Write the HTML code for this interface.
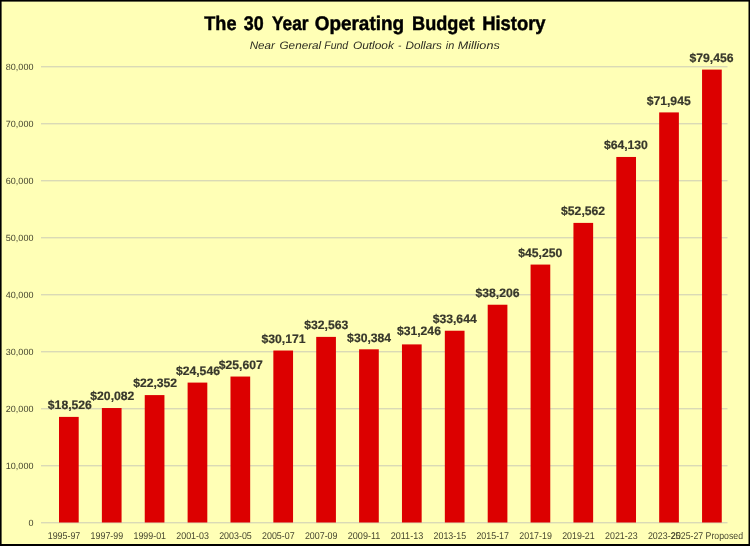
<!DOCTYPE html>
<html lang="en"><head><meta charset="utf-8"><title>The 30 Year Operating Budget History</title>
<style>html,body{margin:0;padding:0;background:#ffffb6;}body{width:750px;height:546px;overflow:hidden;}svg{display:block;}text{font-family:"Liberation Sans",Arial,sans-serif;text-rendering:geometricPrecision;}</style></head><body>
<svg width="750" height="546" viewBox="0 0 750 546">
<rect x="0" y="0" width="750" height="546" fill="#000"/>
<rect x="1.6" y="1.6" width="746.9" height="542.4" fill="#ffffb6"/>
<rect x="41" y="522.0" width="686.5" height="1.4" fill="#dadab6"/>
<rect x="41" y="465.0" width="686.5" height="1.4" fill="#dadab6"/>
<rect x="41" y="408.0" width="686.5" height="1.4" fill="#dadab6"/>
<rect x="41" y="351.0" width="686.5" height="1.4" fill="#dadab6"/>
<rect x="41" y="294.0" width="686.5" height="1.4" fill="#dadab6"/>
<rect x="41" y="237.0" width="686.5" height="1.4" fill="#dadab6"/>
<rect x="41" y="180.0" width="686.5" height="1.4" fill="#dadab6"/>
<rect x="41" y="123.0" width="686.5" height="1.4" fill="#dadab6"/>
<rect x="41" y="66.0" width="686.5" height="1.4" fill="#dadab6"/>
<text x="33.4" y="525.5" font-size="9.0" fill="#45452f" text-anchor="end">0</text>
<text x="33.4" y="468.5" font-size="9.0" fill="#45452f" text-anchor="end">10,000</text>
<text x="33.4" y="411.5" font-size="9.0" fill="#45452f" text-anchor="end">20,000</text>
<text x="33.4" y="354.5" font-size="9.0" fill="#45452f" text-anchor="end">30,000</text>
<text x="33.4" y="297.5" font-size="9.0" fill="#45452f" text-anchor="end">40,000</text>
<text x="33.4" y="240.5" font-size="9.0" fill="#45452f" text-anchor="end">50,000</text>
<text x="33.4" y="183.5" font-size="9.0" fill="#45452f" text-anchor="end">60,000</text>
<text x="33.4" y="126.5" font-size="9.0" fill="#45452f" text-anchor="end">70,000</text>
<text x="33.4" y="69.5" font-size="9.0" fill="#45452f" text-anchor="end">80,000</text>
<rect x="59.00" y="416.90" width="19.7" height="105.60" fill="#dc0000"/>
<rect x="101.87" y="408.03" width="19.7" height="114.47" fill="#dc0000"/>
<rect x="144.74" y="395.09" width="19.7" height="127.41" fill="#dc0000"/>
<rect x="187.61" y="382.59" width="19.7" height="139.91" fill="#dc0000"/>
<rect x="230.48" y="376.54" width="19.7" height="145.96" fill="#dc0000"/>
<rect x="273.35" y="350.53" width="19.7" height="171.97" fill="#dc0000"/>
<rect x="316.22" y="336.89" width="19.7" height="185.61" fill="#dc0000"/>
<rect x="359.09" y="349.31" width="19.7" height="173.19" fill="#dc0000"/>
<rect x="401.96" y="344.40" width="19.7" height="178.10" fill="#dc0000"/>
<rect x="444.83" y="330.73" width="19.7" height="191.77" fill="#dc0000"/>
<rect x="487.70" y="304.73" width="19.7" height="217.77" fill="#dc0000"/>
<rect x="530.57" y="264.57" width="19.7" height="257.93" fill="#dc0000"/>
<rect x="573.44" y="222.90" width="19.7" height="299.60" fill="#dc0000"/>
<rect x="616.31" y="156.96" width="19.7" height="365.54" fill="#dc0000"/>
<rect x="659.18" y="112.41" width="19.7" height="410.09" fill="#dc0000"/>
<rect x="702.05" y="69.60" width="19.7" height="452.90" fill="#dc0000"/>
<text x="69.85" y="409.00" font-size="12.2" font-weight="bold" fill="#37372b" stroke="#37372b" stroke-width="0.2" text-anchor="middle" textLength="44" lengthAdjust="spacingAndGlyphs">$18,526</text>
<text x="112.34" y="400.13" font-size="12.2" font-weight="bold" fill="#37372b" stroke="#37372b" stroke-width="0.2" text-anchor="middle" textLength="44" lengthAdjust="spacingAndGlyphs">$20,082</text>
<text x="155.14" y="387.19" font-size="12.2" font-weight="bold" fill="#37372b" stroke="#37372b" stroke-width="0.2" text-anchor="middle" textLength="44" lengthAdjust="spacingAndGlyphs">$22,352</text>
<text x="197.94" y="374.69" font-size="12.2" font-weight="bold" fill="#37372b" stroke="#37372b" stroke-width="0.2" text-anchor="middle" textLength="44" lengthAdjust="spacingAndGlyphs">$24,546</text>
<text x="240.73" y="368.64" font-size="12.2" font-weight="bold" fill="#37372b" stroke="#37372b" stroke-width="0.2" text-anchor="middle" textLength="44" lengthAdjust="spacingAndGlyphs">$25,607</text>
<text x="283.53" y="342.63" font-size="12.2" font-weight="bold" fill="#37372b" stroke="#37372b" stroke-width="0.2" text-anchor="middle" textLength="44" lengthAdjust="spacingAndGlyphs">$30,171</text>
<text x="326.32" y="328.99" font-size="12.2" font-weight="bold" fill="#37372b" stroke="#37372b" stroke-width="0.2" text-anchor="middle" textLength="44" lengthAdjust="spacingAndGlyphs">$32,563</text>
<text x="369.12" y="342.01" font-size="12.2" font-weight="bold" fill="#37372b" stroke="#37372b" stroke-width="0.2" text-anchor="middle" textLength="44" lengthAdjust="spacingAndGlyphs">$30,384</text>
<text x="418.91" y="334.90" font-size="12.2" font-weight="bold" fill="#37372b" stroke="#37372b" stroke-width="0.2" text-anchor="middle" textLength="44" lengthAdjust="spacingAndGlyphs">$31,246</text>
<text x="454.70" y="322.83" font-size="12.2" font-weight="bold" fill="#37372b" stroke="#37372b" stroke-width="0.2" text-anchor="middle" textLength="44" lengthAdjust="spacingAndGlyphs">$33,644</text>
<text x="497.50" y="296.83" font-size="12.2" font-weight="bold" fill="#37372b" stroke="#37372b" stroke-width="0.2" text-anchor="middle" textLength="44" lengthAdjust="spacingAndGlyphs">$38,206</text>
<text x="540.29" y="256.68" font-size="12.2" font-weight="bold" fill="#37372b" stroke="#37372b" stroke-width="0.2" text-anchor="middle" textLength="44" lengthAdjust="spacingAndGlyphs">$45,250</text>
<text x="583.09" y="215.00" font-size="12.2" font-weight="bold" fill="#37372b" stroke="#37372b" stroke-width="0.2" text-anchor="middle" textLength="44" lengthAdjust="spacingAndGlyphs">$52,562</text>
<text x="625.88" y="149.06" font-size="12.2" font-weight="bold" fill="#37372b" stroke="#37372b" stroke-width="0.2" text-anchor="middle" textLength="44" lengthAdjust="spacingAndGlyphs">$64,130</text>
<text x="668.68" y="104.51" font-size="12.2" font-weight="bold" fill="#37372b" stroke="#37372b" stroke-width="0.2" text-anchor="middle" textLength="44" lengthAdjust="spacingAndGlyphs">$71,945</text>
<text x="711.47" y="61.70" font-size="12.2" font-weight="bold" fill="#37372b" stroke="#37372b" stroke-width="0.2" text-anchor="middle" textLength="44" lengthAdjust="spacingAndGlyphs">$79,456</text>
<text x="64.00" y="538.7" font-size="9.8" fill="#45452f" text-anchor="middle" textLength="32.6" lengthAdjust="spacingAndGlyphs">1995-97</text>
<text x="106.87" y="538.7" font-size="9.8" fill="#45452f" text-anchor="middle" textLength="32.6" lengthAdjust="spacingAndGlyphs">1997-99</text>
<text x="149.74" y="538.7" font-size="9.8" fill="#45452f" text-anchor="middle" textLength="32.6" lengthAdjust="spacingAndGlyphs">1999-01</text>
<text x="192.61" y="538.7" font-size="9.8" fill="#45452f" text-anchor="middle" textLength="32.6" lengthAdjust="spacingAndGlyphs">2001-03</text>
<text x="235.48" y="538.7" font-size="9.8" fill="#45452f" text-anchor="middle" textLength="32.6" lengthAdjust="spacingAndGlyphs">2003-05</text>
<text x="278.35" y="538.7" font-size="9.8" fill="#45452f" text-anchor="middle" textLength="32.6" lengthAdjust="spacingAndGlyphs">2005-07</text>
<text x="321.22" y="538.7" font-size="9.8" fill="#45452f" text-anchor="middle" textLength="32.6" lengthAdjust="spacingAndGlyphs">2007-09</text>
<text x="364.09" y="538.7" font-size="9.8" fill="#45452f" text-anchor="middle" textLength="32.6" lengthAdjust="spacingAndGlyphs">2009-11</text>
<text x="406.96" y="538.7" font-size="9.8" fill="#45452f" text-anchor="middle" textLength="32.6" lengthAdjust="spacingAndGlyphs">2011-13</text>
<text x="449.83" y="538.7" font-size="9.8" fill="#45452f" text-anchor="middle" textLength="32.6" lengthAdjust="spacingAndGlyphs">2013-15</text>
<text x="492.70" y="538.7" font-size="9.8" fill="#45452f" text-anchor="middle" textLength="32.6" lengthAdjust="spacingAndGlyphs">2015-17</text>
<text x="535.57" y="538.7" font-size="9.8" fill="#45452f" text-anchor="middle" textLength="32.6" lengthAdjust="spacingAndGlyphs">2017-19</text>
<text x="578.44" y="538.7" font-size="9.8" fill="#45452f" text-anchor="middle" textLength="32.6" lengthAdjust="spacingAndGlyphs">2019-21</text>
<text x="621.31" y="538.7" font-size="9.8" fill="#45452f" text-anchor="middle" textLength="32.6" lengthAdjust="spacingAndGlyphs">2021-23</text>
<text x="664.18" y="538.7" font-size="9.8" fill="#45452f" text-anchor="middle" textLength="32.6" lengthAdjust="spacingAndGlyphs">2023-25</text>
<text x="707.05" y="538.7" font-size="9.8" fill="#45452f" text-anchor="middle" textLength="72" lengthAdjust="spacingAndGlyphs">2025-27 Proposed</text>
<text y="29.7" font-size="19.8" font-weight="bold" fill="#000" stroke="#000" stroke-width="0.45"><tspan x="204.3" textLength="32.2" lengthAdjust="spacingAndGlyphs">The</tspan> <tspan x="243.7" textLength="19.9" lengthAdjust="spacingAndGlyphs">30</tspan> <tspan x="272.0" textLength="36.5" lengthAdjust="spacingAndGlyphs">Year</tspan> <tspan x="314.7" textLength="89.4" lengthAdjust="spacingAndGlyphs">Operating</tspan> <tspan x="412.1" textLength="62.5" lengthAdjust="spacingAndGlyphs">Budget</tspan> <tspan x="482.2" textLength="63.4" lengthAdjust="spacingAndGlyphs">History</tspan></text>
<text y="48.6" font-size="10.9" font-style="italic" fill="#2c2c22"><tspan x="249.7" textLength="25.2" lengthAdjust="spacingAndGlyphs">Near</tspan> <tspan x="279.5" textLength="41.7" lengthAdjust="spacingAndGlyphs">General</tspan> <tspan x="324.3" textLength="23.9" lengthAdjust="spacingAndGlyphs">Fund</tspan> <tspan x="352.9" textLength="41.0" lengthAdjust="spacingAndGlyphs">Outlook</tspan> <tspan x="398.0" textLength="3.4" lengthAdjust="spacingAndGlyphs">-</tspan> <tspan x="405.5" textLength="36.4" lengthAdjust="spacingAndGlyphs">Dollars</tspan> <tspan x="445.8" textLength="8.5" lengthAdjust="spacingAndGlyphs">in</tspan> <tspan x="457.7" textLength="42.0" lengthAdjust="spacingAndGlyphs">Millions</tspan></text>
</svg></body></html>
